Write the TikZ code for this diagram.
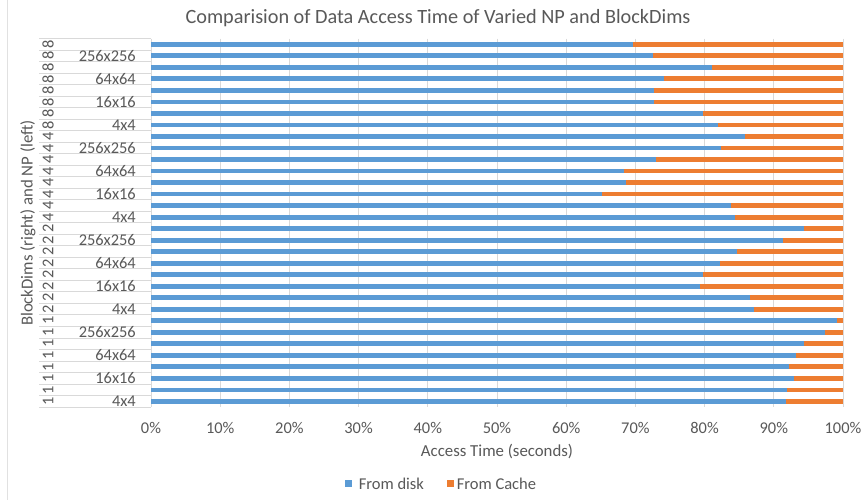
\documentclass[tikz,border=0pt]{standalone}
\usepackage{fontspec}
\setmainfont{Carlito}
\definecolor{diskblue}{HTML}{5B9BD5}
\definecolor{cacheorange}{HTML}{ED7D31}
\definecolor{labelgray}{HTML}{595959}
\definecolor{gridgray}{HTML}{D9D9D9}
\begin{document}
\begin{tikzpicture}[x=0.75pt,y=-0.75pt,
  gridline/.style={draw=gridgray,line width=0.75pt},
  ticklabel/.style={text=labelgray,font=\fontsize{12.3}{14}\selectfont,inner sep=0pt},
  axistitle/.style={text=labelgray,font=\fontsize{12.6}{14}\selectfont,inner sep=0pt},
  charttitle/.style={text=labelgray,font=\fontsize{15.2}{18}\selectfont,inner sep=0pt},
  legendtext/.style={text=labelgray,font=\fontsize{12.4}{14}\selectfont,inner sep=0pt,anchor=west}]
\useasboundingbox (0,0) rectangle (864,500);
\fill[white] (0,0) rectangle (864,500);
% chart frame edge
\draw[gridgray!80,line width=0.6pt] (7,0) -- (7,500);

% vertical gridlines at every 10%
\foreach \k in {1,...,10}
  \draw[gridline] ({151+69.2*\k},38.5) -- ({151+69.2*\k},407.1);
% category axis: row separators and axis line
\foreach \r in {0,...,32}
  \draw[gridline] (39,{38.5+11.52*\r}) -- (151,{38.5+11.52*\r});
\draw[gridline] (151,38.5) -- (151,407.1);

% stacked bars (share read from disk, rest from cache)
\foreach \v [count=\i] in {69.7,72.6,81.0,74.1,72.7,72.7,79.7,81.9,
                           85.9,82.4,73.0,68.3,68.6,65.2,83.8,84.4,
                           94.3,91.4,84.7,82.2,79.7,79.4,86.6,87.1,
                           99.2,97.4,94.3,93.2,92.2,92.9,91.9,91.7}{
  \pgfmathsetmacro{\yc}{44.3+11.52*(\i-1)}
  \pgfmathsetmacro{\xe}{151+6.92*\v}
  \fill[diskblue] (151,\yc-2.4) rectangle (\xe,\yc+2.4);
  \fill[cacheorange] (\xe,\yc-2.4) rectangle (843,\yc+2.4);
}

% NP labels (outer level)
\foreach \d [count=\i] in {8,8,8,8,8,8,8,8,4,4,4,4,4,4,4,4,
                           2,2,2,2,2,2,2,2,1,1,1,1,1,1,1,1}
  \node[ticklabel,rotate=90] (np\i) at (48,{44.3+11.52*(\i-1)}) {\d};

% BlockDims labels (inner level, every other row)
\foreach \g in {0,...,3}{
  \foreach \lab [count=\j] in {256x256,64x64,16x16,4x4}{
    \pgfmathsetmacro{\yr}{44.3+11.52*(8*\g+2*\j-1)}
    \node[ticklabel,anchor=east] (bd\g\j) at (136,\yr) {\lab};
  }
}

% value axis labels
\foreach \k in {0,...,10}{
  \pgfmathtruncatemacro{\p}{10*\k}
  \node[ticklabel] (tick\k) at ({151+69.2*\k},428) {\p\%};
}

% titles
\node[charttitle] (title) at (438,18) {Comparision of Data Access Time of Varied NP and BlockDims};
\node[axistitle] (xtitle) at (497,452) {Access Time (seconds)};
\node[axistitle,rotate=90] (ytitle) at (28,223) {BlockDims (right) and NP (left)};

% legend
\fill[diskblue] (345,480) rectangle (352,487);
\node[legendtext] (legdisk) at (358.5,483.5) {From disk};
\fill[cacheorange] (447,480) rectangle (454,487);
\node[legendtext] (legcache) at (456.5,483.5) {From Cache};
\end{tikzpicture}
\end{document}
